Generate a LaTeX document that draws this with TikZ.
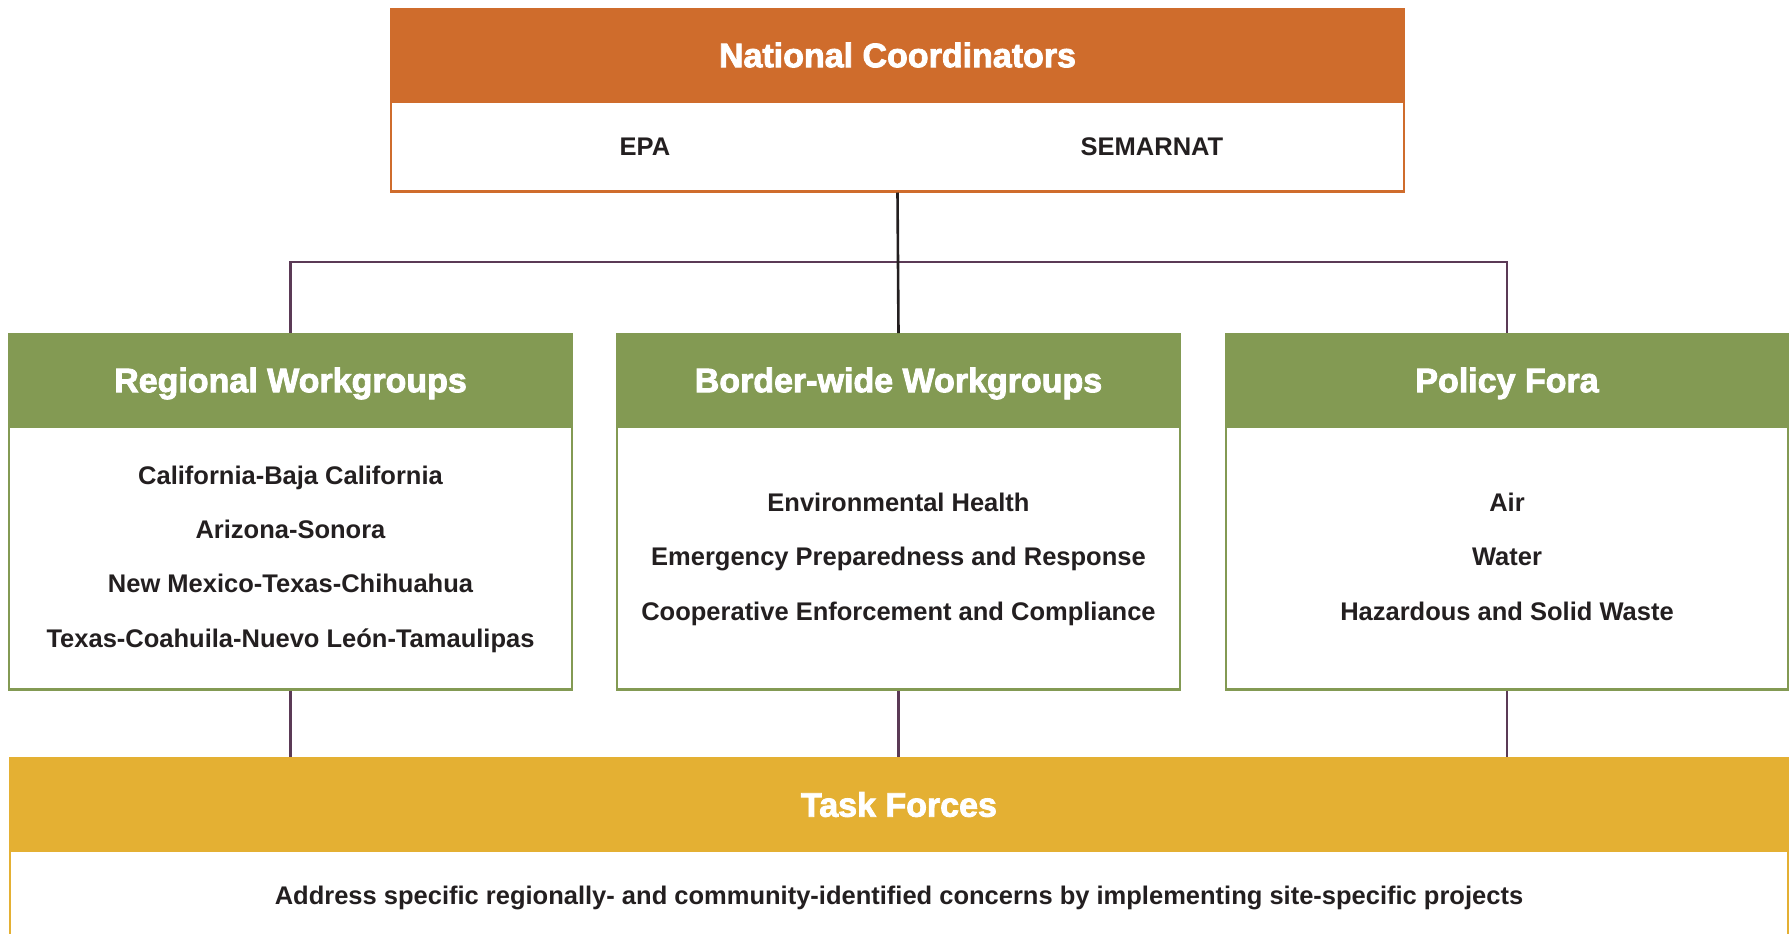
\documentclass[tikz,border=0pt]{standalone}
\usepackage{fontspec}
\setmainfont{Liberation Sans}
\newfontface\heavy{Liberation Sans Bold}[FakeBold=2.5]
\definecolor{cOrange}{HTML}{CF6C2C}
\definecolor{cGreen}{HTML}{839A53}
\definecolor{cYellow}{HTML}{E4B033}
\definecolor{cPurple}{HTML}{5B3A56}
\definecolor{cInk}{HTML}{231F20}
\begin{document}
\begin{tikzpicture}[x=0.5pt,y=-0.5pt,
  head/.style={fill=#1, draw=#1, line width=1pt, inner sep=0pt, minimum height=46pt,
    text height=12.2pt, text depth=0pt,
    font=\heavy\fontsize{17}{20}\selectfont, text=white},
  body/.style={draw=#1, fill=white, line width=1.25pt, inner sep=0pt,
    font=\bfseries\fontsize{12.75}{27.2}\selectfont, text=cInk, align=center},
  label/.style={font=\bfseries\fontsize{12.75}{15}\selectfont, text=cInk, inner sep=0pt,
    text height=9.1pt, text depth=0pt},
  pconn/.style={draw=cPurple, line width=1.3pt},
  dconn/.style={draw=cInk, line width=1.3pt}]
\useasboundingbox (0,0) rectangle (1790,933);

% National Coordinators
\node[body=cOrange, minimum width=506.5pt, minimum height=45pt, anchor=north] (ncb) at (897.5,100) {};
\node[head=cOrange, minimum width=506.5pt, anchor=north] (nch) at (897.5,8) {National Coordinators};
\node[label] (epa) at (645,146) {EPA};
\node[label] (sem) at (1152,146) {SEMARNAT};

% Workgroups
\node[body=cGreen, minimum width=281.5pt, minimum height=131.5pt, anchor=north] (rwb) at (290.5,425) {};
\node[label, align=center, font=\bfseries\fontsize{12.75}{27.2}\selectfont, text height=, text depth=] (rwt) at (290.5,559)
  {California-Baja California\\Arizona-Sonora\\New Mexico-Texas-Chihuahua\\Texas-Coahuila-Nuevo León-Tamaulipas};
\node[head=cGreen, minimum width=281.5pt, anchor=north] (rwh) at (290.5,333) {Regional Workgroups};

\node[body=cGreen, minimum width=281.5pt, minimum height=131.5pt, anchor=north] (bwb) at (898.5,425) {};
\node[label, align=center, font=\bfseries\fontsize{12.75}{27.2}\selectfont, text height=, text depth=] (bwt) at (898.5,559)
  {Environmental Health\\Emergency Preparedness and Response\\Cooperative Enforcement and Compliance};
\node[head=cGreen, minimum width=281.5pt, anchor=north] (bwh) at (898.5,333) {Border-wide Workgroups};

\node[body=cGreen, minimum width=281pt, minimum height=131.5pt, anchor=north] (pfb) at (1507,425) {};
\node[label, align=center, font=\bfseries\fontsize{12.75}{27.2}\selectfont, text height=, text depth=] (pft) at (1507,556.5)
  {Air\\Water\\Hazardous and Solid Waste};
\node[head=cGreen, minimum width=281pt, anchor=north] (pfh) at (1507,333) {Policy Fora};

% Task Forces
\node[body=cYellow, line width=0.9pt, minimum width=889pt, minimum height=50pt, anchor=north] (tfb) at (899,850) {};
\node[head=cYellow, minimum width=889pt, minimum height=46.5pt, anchor=north] (tfh) at (899,757) {Task Forces};
\node[label] (tft) at (899,895) {Address specific regionally- and community-identified concerns by implementing site-specific projects};

% connectors
\coordinate (jl) at (290.5,262);
\coordinate (jr) at (1507,262);
\draw[pconn] (rwh.north) -- (jl) -- (jr) -- (pfh.north);
\draw[dconn] (ncb.south) -- (bwh.north);
\draw[pconn] (rwb.south) -- (rwb.south |- tfh.north);
\draw[pconn] (bwb.south) -- (bwb.south |- tfh.north);
\draw[pconn] (pfb.south) -- (pfb.south |- tfh.north);
\end{tikzpicture}
\end{document}
